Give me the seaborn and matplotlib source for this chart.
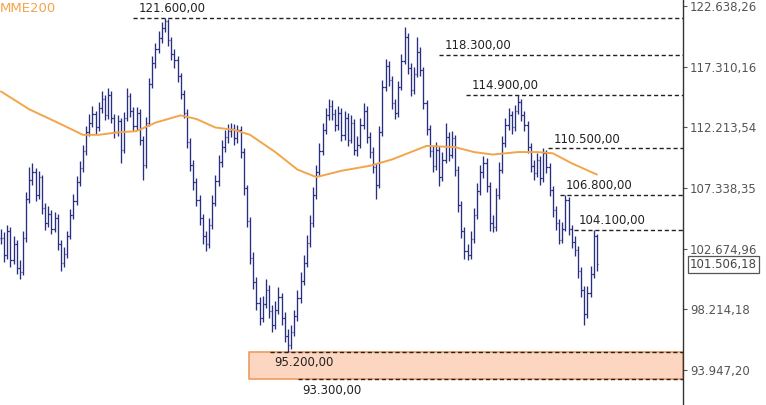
"""Daily bars with MME200 and support / resistance levels."""
import matplotlib
matplotlib.use("Agg")
import matplotlib.pyplot as plt
import seaborn as sns
import numpy as np

# closes, highs and lows per session (thousands of points)
closes = [
    103.5, 102.2, 104.0, 101.8, 103.0, 101.2, 100.9, 103.5, 106.5, 108.0,
    108.6, 106.8, 108.2, 105.8, 104.6, 105.3, 104.2, 105.0, 103.0, 101.6,
    102.3, 103.6, 105.2, 106.3, 107.8, 108.9, 110.3, 111.8, 112.6, 113.3,
    112.2, 113.8, 114.6, 113.2, 114.9, 113.0, 111.8, 112.7, 110.4, 113.0,
    114.8, 113.6, 112.3, 113.4, 111.2, 109.2, 112.6, 115.8, 117.6, 118.8,
    119.8, 120.7, 121.3, 119.6, 118.4, 117.9, 116.5, 115.0, 113.4, 111.0,
    109.2, 107.8, 106.4, 105.0, 103.6, 103.0, 104.5, 106.2, 107.9, 109.4,
    110.6, 111.4, 111.9, 112.1, 111.3, 112.0, 110.2, 107.3, 104.8, 102.0,
    100.2, 98.7, 97.6, 98.6, 99.6, 98.1, 97.1, 98.2, 99.1, 97.6,
    96.3, 95.7, 96.6, 97.7, 99.0, 100.3, 101.6, 103.1, 104.6, 106.8,
    108.6, 110.3, 112.0, 113.2, 114.0, 113.3, 112.4, 113.4, 111.6, 113.0,
    111.2, 112.6, 110.4, 110.8, 112.4, 113.6, 111.4, 110.2, 109.0, 107.6,
    111.8, 115.6, 117.4, 116.2, 114.2, 113.4, 115.6, 117.8, 119.9, 117.2,
    115.3, 116.7, 118.6, 117.0, 114.2, 112.1, 110.3, 109.1, 110.4, 108.2,
    109.6, 111.4, 110.0, 111.3, 108.8, 106.0, 104.0, 102.5, 102.2, 103.4,
    105.2, 107.1, 108.6, 109.3, 107.5, 104.6, 104.3, 106.8, 108.8, 110.9,
    112.4, 113.2, 112.2, 113.6, 114.3, 113.2, 112.4, 110.6, 109.1, 108.5,
    109.6, 108.1, 110.1, 109.0, 107.2, 105.6, 104.6, 103.3, 104.2, 106.4,
    104.2, 103.2, 102.6, 101.0, 99.6, 97.9, 99.4, 100.8, 103.6, 101.5,
]
highs = [
    104.2, 103.9, 104.5, 104.3, 103.6, 103.3, 101.8, 104.0, 107.0, 109.0,
    109.3, 108.9, 108.7, 108.4, 106.2, 105.9, 105.6, 105.5, 105.3, 103.3,
    102.8, 104.0, 105.7, 106.9, 108.3, 109.5, 110.8, 112.3, 113.3, 114.0,
    113.6, 114.3, 115.2, 114.9, 115.5, 115.2, 113.3, 113.2, 113.0, 113.5,
    115.5, 115.1, 113.9, 113.9, 113.7, 111.5, 113.1, 116.3, 118.2, 119.4,
    120.4, 121.2, 121.6, 121.5, 119.9, 118.8, 118.2, 116.8, 115.3, 113.7,
    111.3, 109.6, 108.1, 106.8, 105.3, 104.0, 105.0, 106.8, 108.4, 110.0,
    111.2, 112.0, 112.5, 112.6, 112.5, 112.4, 112.3, 110.5, 107.6, 105.1,
    102.4, 100.6, 99.1, 99.2, 100.4, 100.0, 98.5, 98.8, 99.8, 99.4,
    98.0, 96.8, 97.1, 98.2, 99.6, 100.9, 102.2, 103.7, 105.2, 107.4,
    109.2, 110.9, 112.6, 113.8, 114.6, 114.5, 113.7, 114.0, 113.8, 113.6,
    113.4, 113.2, 112.9, 111.5, 113.0, 114.2, 114.0, 111.8, 110.6, 109.3,
    112.3, 116.2, 118.0, 117.8, 116.5, 114.6, 116.1, 118.4, 120.8, 120.2,
    117.6, 117.3, 119.9, 119.0, 117.3, 114.5, 112.4, 110.7, 111.0, 110.7,
    110.2, 112.6, 111.8, 111.9, 111.6, 109.1, 106.3, 104.3, 103.0, 104.0,
    105.8, 107.7, 109.2, 109.9, 109.7, 107.8, 105.2, 107.3, 109.4, 111.5,
    113.0, 113.8, 113.6, 114.1, 114.9, 114.6, 113.6, 112.7, 110.9, 109.6,
    110.1, 109.9, 110.5, 110.4, 109.3, 107.5, 105.9, 104.9, 104.7, 106.8,
    106.6, 104.5, 103.6, 102.9, 101.3, 99.9, 99.9, 101.4, 104.1, 103.8,
]
lows = [
    103.0, 101.7, 101.9, 101.3, 101.5, 100.8, 100.4, 100.7, 103.2, 106.2,
    107.6, 106.3, 106.5, 105.3, 104.1, 104.3, 103.8, 103.9, 102.6, 101.0,
    101.3, 102.0, 103.4, 104.9, 106.0, 107.5, 108.6, 110.0, 111.5, 112.2,
    111.7, 111.9, 113.4, 112.8, 112.9, 112.6, 111.3, 111.5, 109.3, 110.1,
    112.7, 113.1, 111.9, 112.0, 110.8, 108.0, 108.9, 112.3, 115.5, 117.2,
    118.5, 119.4, 120.3, 119.1, 117.9, 117.2, 116.0, 114.6, 113.0, 110.5,
    108.7, 107.2, 105.9, 104.5, 103.0, 102.5, 102.7, 104.2, 105.9, 107.5,
    109.0, 110.2, 110.9, 111.4, 110.8, 110.9, 109.7, 106.8, 104.3, 101.5,
    99.7, 98.2, 97.1, 97.3, 98.3, 97.6, 96.6, 96.8, 97.9, 97.1,
    95.9, 95.2, 95.4, 96.3, 97.4, 98.7, 100.0, 101.3, 102.8, 104.3,
    106.5, 108.3, 110.0, 111.7, 112.8, 112.8, 111.9, 112.0, 111.1, 111.2,
    110.7, 110.9, 110.0, 109.9, 110.5, 112.1, 110.9, 109.7, 108.5, 106.5,
    107.3, 111.5, 115.2, 115.7, 113.7, 112.9, 113.1, 115.3, 117.5, 116.7,
    114.8, 115.0, 116.4, 116.5, 113.7, 111.6, 109.8, 108.6, 108.8, 107.5,
    107.9, 109.3, 109.5, 109.7, 108.3, 105.5, 103.5, 101.9, 101.8, 101.9,
    103.1, 104.9, 106.8, 108.1, 107.0, 104.0, 103.9, 104.0, 106.5, 108.5,
    110.6, 112.0, 111.7, 111.9, 113.3, 112.7, 111.9, 110.1, 108.6, 108.0,
    108.2, 107.6, 107.8, 108.5, 106.7, 105.1, 104.1, 103.0, 103.1, 104.0,
    103.7, 102.7, 102.1, 100.5, 99.1, 97.1, 97.6, 99.1, 100.5, 101.0,
]

# MME200 read at a few sessions
ma_session = [0, 9, 18, 26, 31, 37, 43, 49, 57, 62, 68, 74, 79, 87, 94, 100,
              108, 117, 124, 130, 135, 144, 150, 156, 164, 170, 175, 181, 189]
ma_values = [115.2, 113.7, 112.6, 111.6, 111.6, 111.8, 111.9, 112.6, 113.2,
             112.9, 112.2, 112.0, 111.6, 110.2, 108.8, 108.2, 108.7, 109.1,
             109.6, 110.2, 110.7, 110.6, 110.2, 110.0, 110.2, 110.2, 110.1,
             109.3, 108.4]

levels = [121600, 118300, 114900, 110500, 106800, 104100]
zone_low, zone_high = 93300, 95200
axis_ticks = [122638.26, 117310.16, 112213.54, 107338.35, 102674.96, 98214.18, 93947.20]
last_price = 101506.18


def br(v):
    return f"{v:,.2f}".replace(",", "X").replace(".", ",").replace("X", ".")


sns.set_style("white")
plt.rcParams["font.family"] = ["DejaVu Sans"]

fig = plt.figure(figsize=(7.66, 4.05), dpi=100)
ax = fig.add_axes([0, 0, 683 / 766, 1])

n = len(closes)
x = np.arange(n)
c = np.array(closes) * 1000
opens = np.r_[c[0], c[:-1]]
bar_color = "#2a2e80"

ax.vlines(x, np.array(lows) * 1000, np.array(highs) * 1000, color=bar_color, lw=0.95, zorder=3)
ax.hlines(opens, x - 0.45, x, color=bar_color, lw=0.9, zorder=3)
ax.hlines(c, x, x + 0.45, color=bar_color, lw=0.9, zorder=3)

sns.lineplot(x=ma_session, y=np.array(ma_values) * 1000, ax=ax,
             color="#f2a54a", lw=1.4, zorder=4)

xmin, xmax = -0.3, 216.3
ax.set_xlim(xmin, xmax)
ax.set_yscale("log")
ax.set_ylim(91570, 123178)

# support zone
box_start = 78.8
ax.fill_between([box_start, xmax], zone_low, zone_high, facecolor="#fcd6c0",
                edgecolor="#f09a60", lw=1.2, zorder=1)

dash = (0, (3, 2))
level_start = [42, 139, 147.5, 173.4, 177.2, 181.6]
for lv, st in zip(levels, level_start):
    ax.hlines(lv, st, xmax, color="#222222", lw=1.0, linestyles=dash, zorder=2)
    ax.annotate(br(lv), xy=(st, lv), xytext=(4, 2), textcoords="offset points",
                ha="left", va="bottom", fontsize=8.5, color="#222222")

ax.hlines(zone_high, 85.4, xmax, color="#222222", lw=1.0, linestyles=dash, zorder=2)
ax.hlines(zone_low, 94.3, xmax, color="#222222", lw=1.0, linestyles=dash, zorder=2)
ax.annotate(br(zone_high), xy=(85.4, zone_high), xytext=(3, -3), textcoords="offset points",
            ha="left", va="top", fontsize=8.5, color="#222222")
ax.annotate(br(zone_low), xy=(94.3, zone_low), xytext=(3, -3), textcoords="offset points",
            ha="left", va="top", fontsize=8.5, color="#222222")

# right price axis
ax.yaxis.tick_right()
ax.minorticks_off()
ax.set_yticks(axis_ticks)
ax.set_yticklabels([br(v) for v in axis_ticks])
ax.tick_params(axis="y", direction="out", length=3, width=0.8, color="#555555",
               labelcolor="#555555", labelsize=8.5, pad=2)
ax.set_xticks([])
for side in ["top", "left", "bottom"]:
    ax.spines[side].set_visible(False)
ax.spines["right"].set_color("#333333")
ax.spines["right"].set_linewidth(1.0)

ax.annotate(br(last_price), xy=(1, last_price), xycoords=("axes fraction", "data"),
            xytext=(5, 0), textcoords="offset points", ha="left", va="center",
            fontsize=8.5, color="#444444", annotation_clip=False, zorder=10,
            bbox=dict(boxstyle="square,pad=0.15", fc="white", ec="#555555", lw=0.9))

fig.text(0.0, 0.995, "MME200", color="#f2a54a", fontsize=9.5, ha="left", va="top")

plt.savefig("out.png", dpi=100)
